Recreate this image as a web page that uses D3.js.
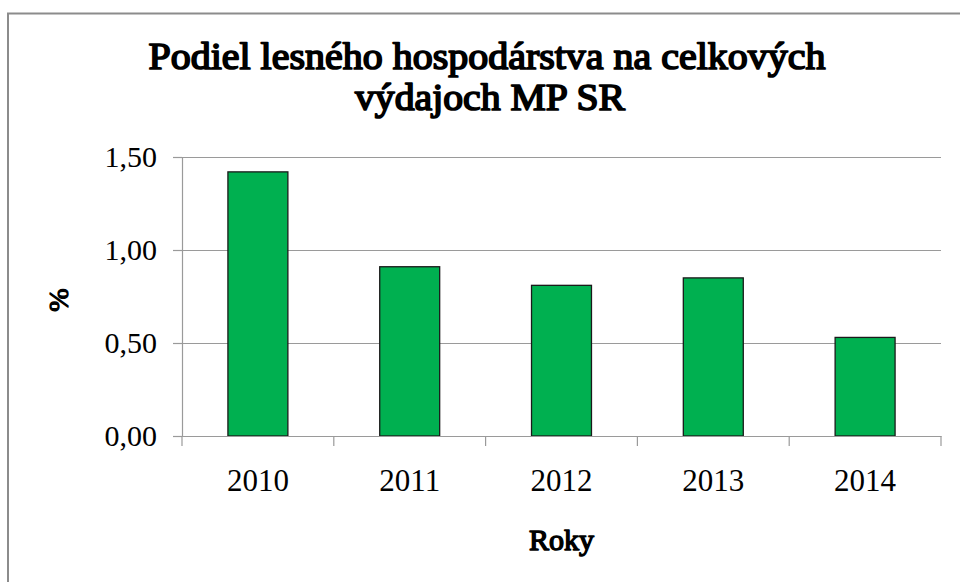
<!DOCTYPE html>
<html>
<head>
<meta charset="utf-8">
<script src="https://cdn.jsdelivr.net/npm/d3@7"></script>
<style>
  html, body { margin: 0; padding: 0; background: #fff; }
  svg { display: block; }
</style>
</head>
<body>
<div id="chart"></div>
<script>
// Data
const years = ["2010", "2011", "2012", "2013", "2014"];
const shares = [1.42, 0.91, 0.81, 0.85, 0.53];
const yTicks = [0, 0.5, 1.0, 1.5];
const titleLines = ["Podiel lesného hospodárstva na celkových", "výdajoch MP SR"];

const width = 960, height = 582;
const margin = { top: 157, right: 19, bottom: 146, left: 182 };
const serif = "Liberation Serif, Times New Roman, Times, serif";

const svg = d3.select("#chart").append("svg")
  .attr("width", width)
  .attr("height", height)
  .attr("font-family", serif);

// Outer chart frame (right and bottom fall outside the picture)
svg.append("rect")
  .attr("x", 8).attr("y", 13.5)
  .attr("width", 1000).attr("height", 1000)
  .attr("fill", "none")
  .attr("stroke", "#8c8c8c")
  .attr("stroke-width", 2);

const x = d3.scaleBand()
  .domain(years)
  .range([margin.left, width - margin.right])
  .paddingInner(0.605)
  .paddingOuter(0.3025);

const y = d3.scaleLinear()
  .domain([0, 1.5])
  .range([height - margin.bottom, margin.top]);

const fmt = v => d3.format(".2f")(v).replace(".", ",");

// Gridlines
svg.append("g")
  .selectAll("line")
  .data(yTicks.filter(d => d > 0))
  .join("line")
  .attr("x1", margin.left)
  .attr("x2", width - margin.right)
  .attr("y1", d => Math.round(y(d)) + 0.5)
  .attr("y2", d => Math.round(y(d)) + 0.5)
  .attr("stroke", "#9a9a9a")
  .attr("stroke-width", 1.2);

// Bars
svg.append("g")
  .selectAll("rect")
  .data(years)
  .join("rect")
  .attr("x", d => x(d))
  .attr("y", (d, i) => y(shares[i]))
  .attr("width", x.bandwidth())
  .attr("height", (d, i) => y(0) - y(shares[i]))
  .attr("fill", "#00b050")
  .attr("stroke", "#1a1a1a")
  .attr("stroke-width", 1.3);

// Y axis
const yAxis = svg.append("g")
  .attr("transform", `translate(${margin.left},0)`)
  .call(d3.axisLeft(y).tickValues(yTicks).tickFormat(fmt).tickSize(9).tickPadding(16));
yAxis.attr("font-family", serif);
yAxis.select(".domain").attr("stroke", "#9a9a9a").attr("stroke-width", 1.2);
yAxis.selectAll(".tick line").attr("stroke", "#9a9a9a").attr("stroke-width", 1.2);
yAxis.selectAll(".tick text")
  .attr("font-size", 30)
  .attr("fill", "#000")
  .attr("dy", "0.3em");

// X axis
const xAxis = svg.append("g")
  .attr("transform", `translate(0,${y(0)})`)
  .call(d3.axisBottom(x).tickSize(0).tickPadding(32));
xAxis.attr("font-family", serif);
xAxis.select(".domain").attr("stroke", "#9a9a9a").attr("stroke-width", 1.2);
xAxis.selectAll(".tick text")
  .attr("font-size", 31)
  .attr("fill", "#000")
  .attr("dy", "0.75em");

// Category separators
const step = x.step();
svg.append("g")
  .selectAll("line")
  .data(d3.range(years.length + 1))
  .join("line")
  .attr("x1", i => margin.left + i * step)
  .attr("x2", i => margin.left + i * step)
  .attr("y1", y(0))
  .attr("y2", y(0) + 10)
  .attr("stroke", "#9a9a9a")
  .attr("stroke-width", 1.2);

// Bold serif faces are not available, so thicken the regular one with a stroke
const fauxBold = (sel, w) => sel
  .attr("font-family", serif)
  .attr("font-weight", "normal")
  .attr("fill", "#000")
  .attr("stroke", "#000")
  .attr("stroke-width", w)
  .attr("stroke-linejoin", "round");

// Title
const title = svg.append("g")
  .attr("font-size", 37)
  .attr("text-anchor", "middle")
  .call(fauxBold, 1.7);
title.append("text")
  .attr("x", 487).attr("y", 69)
  .attr("textLength", 677)
  .attr("lengthAdjust", "spacingAndGlyphs")
  .text(titleLines[0]);
title.append("text")
  .attr("x", 490).attr("y", 110)
  .attr("textLength", 270)
  .attr("lengthAdjust", "spacingAndGlyphs")
  .text(titleLines[1]);

// Axis titles
svg.append("text")
  .attr("x", (margin.left + width - margin.right) / 2)
  .attr("y", 550)
  .attr("text-anchor", "middle")
  .attr("font-size", 30)
  .call(fauxBold, 1.4)
  .text("Roky");

svg.append("text")
  .attr("transform", "translate(68,300) rotate(-90)")
  .attr("text-anchor", "middle")
  .attr("font-size", 28)
  .call(fauxBold, 1.2)
  .text("%");
</script>
</body>
</html>
